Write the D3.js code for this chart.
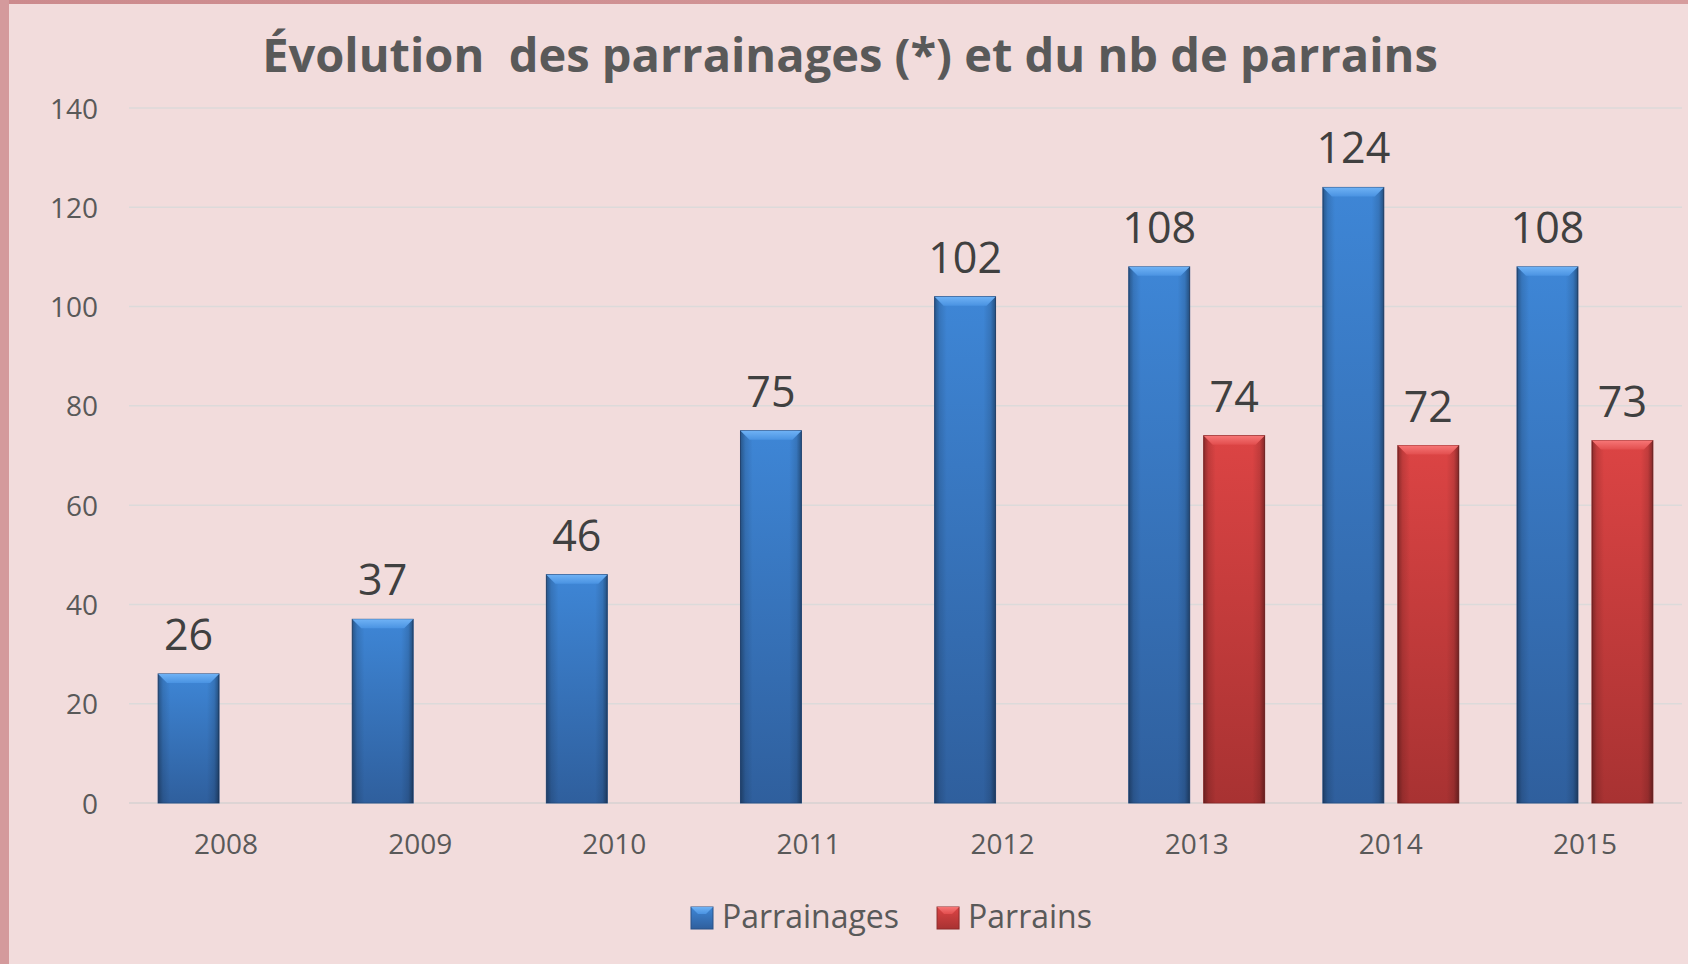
<!DOCTYPE html>
<html>
<head>
<meta charset="utf-8">
<script src="https://cdn.jsdelivr.net/npm/d3@7"></script>
<style>
  html, body { margin: 0; padding: 0; background: #f2dcdc; overflow: hidden; }
  svg { display: block; }
</style>
</head>
<body>
<script>
// chart data
var years = ['2008', '2009', '2010', '2011', '2012', '2013', '2014', '2015'];
var parrainages = [26, 37, 46, 75, 102, 108, 124, 108];
var parrains = [null, null, null, null, null, 74, 72, 73];
var seriesNames = ['Parrainages', 'Parrains'];
var yTicks = [0, 20, 40, 60, 80, 100, 120, 140];
var titleText = 'Évolution  des parrainages (*) et du nb de parrains';

var chart_width = 1688;
var chart_height = 964;
var margin = { top: 108, bottom: 161, right: 6, left: 129 };

var svg = d3.select('body')
  .append('svg')
  .attr('width', chart_width)
  .attr('height', chart_height);

var defs = svg.append('defs');

// gradients for the bevelled bars
function vGrad(id, stops) {
  var g = defs.append('linearGradient')
    .attr('id', id)
    .attr('x1', 0).attr('y1', 0).attr('x2', 0).attr('y2', 1);
  stops.forEach(function(s) {
    g.append('stop').attr('offset', s[0]).attr('stop-color', s[1]);
  });
}
function hGrad(id, stops) {
  var g = defs.append('linearGradient')
    .attr('id', id)
    .attr('x1', 0).attr('y1', 0).attr('x2', 1).attr('y2', 0);
  stops.forEach(function(s) {
    g.append('stop').attr('offset', s[0]).attr('stop-color', s[1]).attr('stop-opacity', s[2]);
  });
}
vGrad('blueBody', [[0, '#3e86d6'], [1, '#2f5f9d']]);
vGrad('redBody', [[0, '#dc4444'], [1, '#a83232']]);
vGrad('blueTop', [[0, '#6fb2f5'], [1, '#4a93e2']]);
vGrad('redTop', [[0, '#f77676'], [1, '#e24e4e']]);
hGrad('edges', [[0, '#000', 0.35], [0.08, '#000', 0.12], [0.2, '#000', 0], [0.8, '#000', 0], [0.92, '#000', 0.12], [1, '#000', 0.4]]);

var colors = {
  Parrainages: { body: 'url(#blueBody)', top: 'url(#blueTop)', stroke: '#2a5287' },
  Parrains: { body: 'url(#redBody)', top: 'url(#redTop)', stroke: '#8e2a2a' }
};

// frame strips
var topStrip = defs.append('linearGradient').attr('id', 'topStrip');
topStrip.append('stop').attr('offset', 0).attr('stop-color', '#cc8a8d');
topStrip.append('stop').attr('offset', 1).attr('stop-color', '#d69c9d');
svg.append('rect')
  .attr('x', 0).attr('y', 0)
  .attr('width', chart_width).attr('height', 4)
  .attr('fill', 'url(#topStrip)');
svg.append('rect')
  .attr('x', 0).attr('y', 0)
  .attr('width', 9).attr('height', chart_height)
  .attr('fill', '#d49a9c');

// Scales
var x0 = d3.scaleBand()
  .domain(years)
  .range([margin.left, chart_width - margin.right])
  .paddingInner(0.3)
  .paddingOuter(0.15);
var x1 = d3.scaleBand()
  .domain(seriesNames)
  .range([0, x0.bandwidth()])
  .paddingInner(0.187);
var y_scale = d3.scaleLinear()
  .domain([0, 140])
  .range([chart_height - margin.bottom, margin.top]);

var fullX0 = margin.left;
var fullX1 = chart_width - margin.right;

// gridlines
svg.append('g')
  .attr('class', 'grid')
  .selectAll('line')
  .data(yTicks)
  .enter()
  .append('line')
  .attr('x1', fullX0)
  .attr('x2', fullX1)
  .attr('y1', function(d) { return y_scale(d); })
  .attr('y2', function(d) { return y_scale(d); })
  .attr('stroke', function(d) { return d === 0 ? '#d6d2d2' : '#dcdada'; })
  .attr('stroke-width', 1.5);

// y axis labels
var y_axis = d3.axisLeft(y_scale)
  .tickValues(yTicks)
  .tickSize(0)
  .tickPadding(0);
var yAxisG = svg.append('g')
  .attr('transform', 'translate(' + 98 + ',0)')
  .call(y_axis);
yAxisG.select('.domain').remove();
yAxisG.selectAll('text')
  .attr('fill', '#595959')
  .style('font-family', '"Open Sans", sans-serif')
  .style('font-size', '28px')
  .attr('dy', '0.36em');

// x axis labels
var x_axis = d3.axisBottom(x0)
  .tickSize(0)
  .tickPadding(0);
var xAxisG = svg.append('g')
  .attr('transform', 'translate(0,' + 854 + ')')
  .call(x_axis);
xAxisG.select('.domain').remove();
xAxisG.selectAll('text')
  .attr('fill', '#595959')
  .attr('dy', 0)
  .style('font-family', '"Open Sans", sans-serif')
  .style('font-size', '28px');

// bars
var bars = [];
years.forEach(function(yr, i) {
  bars.push({ year: yr, series: 'Parrainages', value: parrainages[i] });
  if (parrains[i] != null) {
    bars.push({ year: yr, series: 'Parrains', value: parrains[i] });
  }
});

var bevel = 9;
var barG = svg.append('g')
  .selectAll('g')
  .data(bars)
  .enter()
  .append('g')
  .attr('transform', function(d) {
    return 'translate(' + (x0(d.year) + x1(d.series)) + ',0)';
  });

var bw = x1.bandwidth();

barG.append('rect')
  .attr('x', 0)
  .attr('y', function(d) { return y_scale(d.value); })
  .attr('width', bw)
  .attr('height', function(d) { return y_scale(0) - y_scale(d.value); })
  .attr('fill', function(d) { return colors[d.series].body; })
  .attr('stroke', function(d) { return colors[d.series].stroke; })
  .attr('stroke-width', 1);

barG.append('rect')
  .attr('x', 0)
  .attr('y', function(d) { return y_scale(d.value); })
  .attr('width', bw)
  .attr('height', function(d) { return y_scale(0) - y_scale(d.value); })
  .attr('fill', 'url(#edges)');

barG.append('path')
  .attr('d', function(d) {
    var t = y_scale(d.value);
    return 'M0,' + t + 'L' + bw + ',' + t + 'L' + (bw - bevel) + ',' + (t + bevel) +
      'L' + bevel + ',' + (t + bevel) + 'Z';
  })
  .attr('fill', function(d) { return colors[d.series].top; });

// value labels
barG.append('text')
  .attr('x', bw / 2)
  .attr('y', function(d) { return y_scale(d.value) - 24; })
  .attr('text-anchor', 'middle')
  .attr('fill', '#404040')
  .style('font-family', '"Open Sans", sans-serif')
  .style('font-size', '43px')
  .text(function(d) { return d.value; });

// title, sized to the reference width
var title = svg.append('text')
  .attr('x', 850)
  .attr('y', 72)
  .attr('text-anchor', 'middle')
  .attr('fill', '#595959')
  .style('font-family', '"Open Sans", sans-serif')
  .style('font-weight', 'bold')
  .style('font-size', '42px')
  .style('white-space', 'pre')
  .attr('xml:space', 'preserve')
  .text(titleText);
var tw = title.node().getComputedTextLength();
title.style('font-size', (42 * 1176 / tw) + 'px');

// legend
var legend = svg.append('g').attr('transform', 'translate(691,0)');
var lx = 0;
seriesNames.forEach(function(name) {
  var item = legend.append('g').attr('transform', 'translate(' + lx + ',0)');
  item.append('rect')
    .attr('x', 0).attr('y', 907)
    .attr('width', 22).attr('height', 22)
    .attr('fill', colors[name].body)
    .attr('stroke', colors[name].stroke)
    .attr('stroke-width', 1);
  item.append('path')
    .attr('d', 'M0,907L22,907L15,914L7,914Z')
    .attr('fill', colors[name].top);
  var t = item.append('text')
    .attr('x', 31)
    .attr('y', 928)
    .attr('fill', '#595959')
    .style('font-family', '"Open Sans", sans-serif')
    .style('font-size', '32px')
    .text(name);
  lx += 31 + t.node().getComputedTextLength() + 38;
});
</script>
</body>
</html>
